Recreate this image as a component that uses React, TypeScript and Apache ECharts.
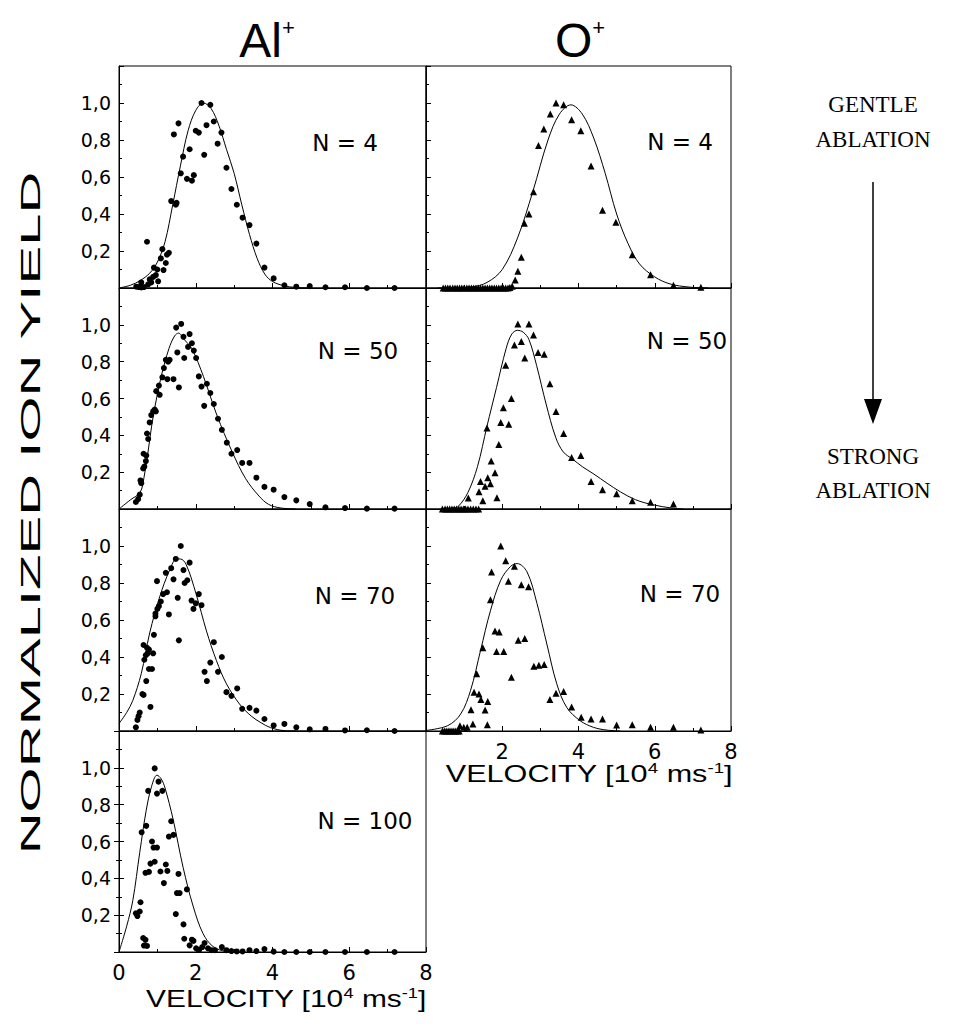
import React, { useEffect, useRef } from "react";
import * as echarts from "echarts";

// ---------- DATA ----------
const xTicks = [0, 2, 4, 6, 8];
const yTickLabels = ["0,2", "0,4", "0,6", "0,8", "1,0"];
const panelLabels = ["N = 4", "N = 50", "N = 70", "N = 100", "N = 4", "N = 50", "N = 70"];

// Al+ , N = 4
const alN4Pts = [
  [0.45, 0.007], [0.52, 0.005], [0.58, 0.003], [0.65, 0.005], [0.58, 0.03], [0.76, 0.02], [0.84, 0.03],
  [0.8, 0.047], [0.89, 0.06], [0.96, 0.07], [1.02, 0.036], [0.91, 0.11], [1.0, 0.1], [1.16, 0.097],
  [1.22, 0.135], [1.09, 0.16], [1.25, 0.18], [1.3, 0.19], [1.13, 0.21], [0.73, 0.25], [1.36, 0.47],
  [1.5, 0.46], [1.48, 0.45], [1.61, 0.62], [1.77, 0.59], [1.9, 0.58], [1.95, 0.61], [1.67, 0.71],
  [1.84, 0.75], [1.43, 0.83], [1.55, 0.89], [2.0, 0.85], [2.08, 0.84], [2.28, 0.88], [2.47, 0.9],
  [2.15, 1.0], [2.38, 0.99], [2.22, 0.72], [2.57, 0.78], [2.67, 0.84], [2.8, 0.65], [2.93, 0.535],
  [3.07, 0.45], [3.22, 0.38], [3.4, 0.34], [3.58, 0.24], [3.79, 0.11], [4.03, 0.052], [4.31, 0.015],
  [4.62, 0.007], [4.97, 0.01], [5.38, 0.004], [5.89, 0.004], [6.46, 0], [7.18, 0],
];
const alN4Fit = [
  [0, 0], [0.3, 0.015], [0.55, 0.04], [0.8, 0.08], [1.0, 0.14], [1.2, 0.25], [1.4, 0.45], [1.6, 0.66],
  [1.8, 0.85], [2.0, 0.96], [2.2, 1.0], [2.4, 0.97], [2.6, 0.88], [2.8, 0.75], [3.0, 0.62], [3.2, 0.45],
  [3.4, 0.29], [3.6, 0.16], [3.8, 0.075], [4.0, 0.035], [4.3, 0.012], [4.6, 0.003], [5.0, 0],
];

// Al+ , N = 50
const alN50Pts = [
  [0.44, 0.038], [0.5, 0.054], [0.54, 0.078], [0.58, 0.14], [0.56, 0.155], [0.63, 0.22], [0.66, 0.23],
  [0.7, 0.26], [0.71, 0.29], [0.64, 0.3], [0.76, 0.38], [0.73, 0.41], [0.8, 0.47], [0.84, 0.51],
  [0.89, 0.53], [0.93, 0.54], [0.96, 0.53], [1.06, 0.62], [0.97, 0.64], [1.04, 0.67], [1.13, 0.715],
  [1.26, 0.705], [1.42, 0.705], [1.56, 0.66], [1.17, 0.765], [1.28, 0.8], [1.22, 0.81], [1.32, 0.81],
  [1.52, 0.85], [1.49, 0.985], [1.62, 1.005], [1.68, 0.935], [1.84, 0.95], [1.8, 0.88], [1.9, 0.9],
  [1.95, 0.86], [1.7, 0.82], [2.01, 0.82], [2.08, 0.72], [2.15, 0.665], [2.29, 0.68], [2.38, 0.63],
  [2.22, 0.56], [2.47, 0.57], [2.58, 0.49], [2.68, 0.43], [2.81, 0.36], [2.93, 0.3], [3.08, 0.32],
  [3.21, 0.25], [3.4, 0.25], [3.58, 0.17], [3.79, 0.12], [4.03, 0.105], [4.31, 0.065], [4.62, 0.047],
  [4.97, 0.027], [5.38, 0.009], [5.89, 0.005], [6.46, 0.002], [7.18, 0.002],
];
const alN50Fit = [
  [0, 0], [0.3, 0.05], [0.55, 0.09], [0.65, 0.17], [0.75, 0.3], [0.85, 0.45], [0.95, 0.57], [1.1, 0.72],
  [1.3, 0.87], [1.45, 0.94], [1.55, 0.955], [1.7, 0.92], [1.9, 0.87], [2.2, 0.72], [2.55, 0.51],
  [2.95, 0.31], [3.3, 0.165], [3.65, 0.07], [3.9, 0.025], [4.2, 0.006], [4.6, 0],
];

// Al+ , N = 70
const alN70Pts = [
  [0.44, 0.02], [0.48, 0.06], [0.51, 0.08], [0.54, 0.1], [0.61, 0.2], [0.64, 0.195], [0.82, 0.13],
  [0.71, 0.27], [0.78, 0.335], [0.86, 0.335], [0.66, 0.385], [0.7, 0.41], [0.75, 0.42], [0.78, 0.44],
  [0.89, 0.42], [0.73, 0.45], [0.64, 0.465], [0.91, 0.52], [0.95, 0.62], [0.95, 0.635], [1.0, 0.66],
  [1.04, 0.675], [1.09, 0.7], [1.15, 0.74], [1.25, 0.75], [1.3, 0.63], [0.99, 0.81], [1.22, 0.855],
  [1.36, 0.88], [1.42, 0.82], [1.48, 0.93], [1.53, 0.72], [1.56, 0.49], [1.61, 1.0], [1.68, 0.87],
  [1.71, 0.8], [1.78, 0.815], [1.84, 0.91], [1.89, 0.705], [1.94, 0.66], [2.0, 0.69], [2.08, 0.74],
  [2.15, 0.68], [2.23, 0.32], [2.29, 0.27], [2.38, 0.37], [2.47, 0.48], [2.58, 0.32], [2.68, 0.4],
  [2.8, 0.21], [2.93, 0.19], [3.08, 0.23], [3.21, 0.12], [3.4, 0.125], [3.58, 0.11], [3.79, 0.065],
  [4.03, 0.03], [4.31, 0.038], [4.62, 0.02], [4.97, 0.009], [5.38, 0.011], [5.89, 0.003], [6.46, 0.004],
  [7.18, 0],
];
const alN70Fit = [
  [0, 0.04], [0.2, 0.1], [0.36, 0.165], [0.58, 0.31], [0.8, 0.53], [1.06, 0.725], [1.32, 0.87],
  [1.5, 0.93], [1.6, 0.93], [1.75, 0.9], [2.01, 0.74], [2.28, 0.54], [2.54, 0.38], [2.8, 0.255],
  [3.14, 0.146], [3.45, 0.08], [3.7, 0.045], [3.95, 0.018], [4.3, 0.002], [4.6, 0],
];

// Al+ , N = 100
const alN100Pts = [
  [0.44, 0.21], [0.48, 0.195], [0.54, 0.22], [0.56, 0.27], [0.59, 0.65], [0.63, 0.076], [0.69, 0.066],
  [0.65, 0.035], [0.73, 0.033], [0.69, 0.43], [0.78, 0.435], [0.71, 0.685], [0.76, 0.875], [0.82, 0.48],
  [0.86, 0.6], [0.9, 0.567], [0.93, 0.49], [0.99, 0.567], [0.93, 0.997], [0.99, 0.86], [1.03, 0.925],
  [1.08, 0.437], [1.13, 0.875], [1.17, 0.374], [1.22, 0.475], [1.26, 0.44], [1.3, 0.627], [1.36, 0.71],
  [1.42, 0.636], [1.48, 0.206], [1.51, 0.32], [1.55, 0.424], [1.58, 0.32], [1.68, 0.15], [1.7, 0.072],
  [1.77, 0.34], [1.84, 0.036], [1.9, 0.067], [1.94, 0.06], [2.01, 0.02], [2.09, 0.012], [2.17, 0.027],
  [2.23, 0.049], [2.32, 0.02], [2.41, 0.01], [2.5, 0.01], [2.68, 0.027], [2.8, 0.01], [2.93, 0.005],
  [3.07, 0.003], [3.22, 0.003], [3.4, 0.01], [3.58, 0.005], [3.79, 0.016], [4.03, 0.002], [4.31, 0],
  [4.62, 0], [4.97, 0], [5.38, 0], [5.89, 0], [6.46, 0], [7.18, 0],
];
const alN100Fit = [
  [0, 0], [0.2, 0.14], [0.36, 0.28], [0.54, 0.54], [0.71, 0.77], [0.85, 0.9], [0.99, 0.96], [1.1, 0.94],
  [1.2, 0.89], [1.41, 0.72], [1.67, 0.46], [1.93, 0.25], [2.19, 0.1], [2.45, 0.03], [2.8, 0.003], [3.1, 0],
];

// O+ , N = 4
const oN4Pts = [
  [0.45, 0], [0.51, 0], [0.57, 0], [0.63, 0], [0.7, 0], [0.76, 0], [0.82, 0], [0.88, 0], [0.94, 0],
  [1.0, 0], [1.07, 0], [1.13, 0], [1.19, 0], [1.25, 0], [1.31, 0], [1.37, 0], [1.43, 0], [1.49, 0],
  [1.55, 0], [1.61, 0], [1.67, 0], [1.73, 0], [1.79, 0], [1.85, 0], [1.91, 0], [1.97, 0], [2.03, 0],
  [2.09, 0], [2.15, 0], [2.2, 0.003], [2.26, 0.01], [2.34, 0.043], [2.41, 0.09], [2.5, 0.166],
  [2.58, 0.35], [2.7, 0.4], [2.82, 0.52], [2.95, 0.77], [3.09, 0.86], [3.26, 0.94], [3.41, 1.0],
  [3.61, 0.99], [3.82, 0.91], [4.06, 0.85], [4.33, 0.66], [4.63, 0.42], [4.98, 0.355], [5.41, 0.18],
  [5.89, 0.072], [6.49, 0.015], [7.21, 0.004],
];
const oN4Fit = [
  [0.3, 0], [0.8, 0.002], [1.2, 0.006], [1.6, 0.03], [2.0, 0.1], [2.4, 0.27], [2.8, 0.52], [3.2, 0.8],
  [3.5, 0.94], [3.8, 0.99], [4.1, 0.94], [4.4, 0.81], [4.7, 0.62], [5.0, 0.4], [5.3, 0.24], [5.6, 0.13],
  [6.0, 0.06], [6.4, 0.022], [6.9, 0.005], [7.4, 0],
];

// O+ , N = 50
const oN50Pts = [
  [0.43, 0], [0.5, 0], [0.56, 0], [0.62, 0], [0.68, 0], [0.74, 0], [0.8, 0], [0.86, 0], [0.92, 0],
  [0.98, 0], [1.04, 0], [1.1, 0], [1.17, 0], [1.24, 0], [1.31, 0], [1.38, 0], [1.11, 0.06], [1.39, 0.094],
  [1.49, 0.045], [1.43, 0.15], [1.55, 0.123], [1.62, 0.17], [1.69, 0.137], [1.71, 0.26], [1.81, 0.197],
  [1.86, 0.061], [1.6, 0.44], [1.91, 0.35], [1.96, 0.47], [2.17, 0.46], [2.03, 0.55], [2.24, 0.6],
  [2.09, 0.78], [2.32, 0.89], [2.5, 0.91], [2.59, 0.82], [2.41, 1.005], [2.7, 1.005], [2.82, 0.945],
  [2.94, 0.85], [3.1, 0.84], [3.25, 0.68], [3.41, 0.53], [3.61, 0.41], [3.82, 0.28], [4.06, 0.29],
  [4.33, 0.15], [4.63, 0.105], [5.0, 0.083], [5.41, 0.045], [5.89, 0.036], [6.49, 0.027],
];
const oN50Fit = [
  [0.4, 0], [0.7, 0.005], [0.85, 0.015], [1.1, 0.09], [1.35, 0.23], [1.6, 0.45], [1.85, 0.66],
  [2.1, 0.87], [2.25, 0.95], [2.4, 0.97], [2.55, 0.96], [2.7, 0.92], [2.9, 0.78], [3.15, 0.57],
  [3.4, 0.39], [3.6, 0.31], [3.85, 0.27], [4.1, 0.23], [4.4, 0.19], [4.75, 0.14], [5.1, 0.093],
  [5.5, 0.05], [5.95, 0.023], [6.45, 0.005], [6.75, 0],
];

// O+ , N = 70
const oN70Pts = [
  [0.43, 0], [0.48, 0], [0.53, 0], [0.58, 0], [0.63, 0], [0.68, 0], [0.73, 0], [0.78, 0], [0.83, 0],
  [0.87, 0], [0.89, 0.029], [0.99, 0.02], [1.08, 0.02], [1.18, 0.115], [1.23, 0.038], [1.26, 0.21],
  [1.33, 0.31], [1.39, 0.2], [1.44, 0.17], [1.49, 0.45], [1.55, 0.114], [1.61, 0.034], [1.62, 0.16],
  [1.69, 0.71], [1.72, 0.86], [1.81, 0.54], [1.85, 0.43], [1.92, 0.535], [1.96, 1.0], [2.04, 0.43],
  [2.09, 0.92], [2.16, 0.81], [2.24, 0.29], [2.32, 0.89], [2.42, 0.49], [2.5, 0.79], [2.59, 0.5],
  [2.69, 0.78], [2.83, 0.35], [2.96, 0.356], [3.1, 0.36], [3.25, 0.17], [3.41, 0.204], [3.61, 0.213],
  [3.82, 0.13], [4.07, 0.074], [4.33, 0.065], [4.63, 0.065], [5.0, 0.032], [5.41, 0.034], [5.89, 0.02],
  [6.49, 0.02], [7.21, 0.005],
];
const oN70Fit = [
  [0, 0.003], [0.57, 0.029], [0.91, 0.092], [1.17, 0.22], [1.43, 0.435], [1.69, 0.65], [1.96, 0.815],
  [2.22, 0.89], [2.39, 0.905], [2.65, 0.86], [2.91, 0.69], [3.17, 0.47], [3.43, 0.255], [3.69, 0.128],
  [4.04, 0.056], [4.39, 0.02], [4.74, 0.005], [5.1, 0],
];

const panelPoints = [alN4Pts, alN50Pts, alN70Pts, alN100Pts, oN4Pts, oN50Pts, oN70Pts];
const panelFits = [alN4Fit, alN50Fit, alN70Fit, alN100Fit, oN4Fit, oN50Fit, oN70Fit];

// ---------- LAYOUT ----------
const SANS = '"DejaVu Sans", sans-serif';
const ARIAL = '"Liberation Sans", Arial, sans-serif';
const SERIF = '"Liberation Serif", "DejaVu Serif", serif';
const colLeft = [119, 426];
const colWidth = [307, 305];
const rowTop = [66, 288, 509, 731];
const rowHeight = [222, 221, 222, 221];
// panel i: column, row
const panelPos = [
  [0, 0], [0, 1], [0, 2], [0, 3],
  [1, 0], [1, 1], [1, 2],
];
const labelPos = [
  [345, 143], [358, 351], [355, 596], [365, 821],
  [680, 142], [687, 341], [680, 594],
];

function buildOption() {
  const grid: any[] = [];
  const xAxis: any[] = [];
  const yAxis: any[] = [];
  const series: any[] = [];
  const graphic: any[] = [];

  panelPos.forEach(([c, r], i) => {
    grid.push({
      left: colLeft[c],
      top: rowTop[r],
      width: colWidth[c],
      height: rowHeight[r],
      show: true,
      borderColor: "#000",
      borderWidth: 1,
      backgroundColor: "transparent",
    });
    const showX = i === 3 || i === 6;
    xAxis.push({
      gridIndex: i,
      type: "value",
      min: 0,
      max: 8,
      interval: 2,
      axisLine: { show: true, onZero: false, lineStyle: { color: "#000", width: 1 } },
      axisTick: { show: true, inside: true, length: 5, lineStyle: { color: "#000" } },
      minorTick: { show: true, splitNumber: 2, length: 3, lineStyle: { color: "#000" } },
      splitLine: { show: false },
      axisLabel: {
        show: showX,
        margin: 10,
        color: "#000",
        fontSize: 21,
        fontFamily: SANS,
        formatter: (v: number) => {
          if (i === 6 && v === 0) return "";
          return xTicks.includes(v) ? String(v) : "";
        },
      },
    });
    yAxis.push({
      gridIndex: i,
      type: "value",
      min: 0,
      max: 1.2,
      interval: 0.2,
      axisLine: { show: true, onZero: false, lineStyle: { color: "#000", width: 1 } },
      axisTick: { show: true, inside: true, length: 5, lineStyle: { color: "#000" } },
      minorTick: { show: true, splitNumber: 2, length: 3, lineStyle: { color: "#000" } },
      splitLine: { show: false },
      axisLabel: {
        show: c === 0,
        margin: 8,
        color: "#000",
        fontSize: 19,
        fontFamily: SANS,
        formatter: (v: number) => {
          const k = Math.round(v * 5) - 1;
          return k >= 0 && k < yTickLabels.length ? yTickLabels[k] : "";
        },
      },
    });
    series.push({
      type: "scatter",
      xAxisIndex: i,
      yAxisIndex: i,
      data: panelPoints[i],
      symbol: c === 0 ? "circle" : "triangle",
      symbolSize: c === 0 ? 6 : [7, 7],
      itemStyle: { color: "#000", opacity: 1 },
      silent: true,
    });
    series.push({
      type: "line",
      xAxisIndex: i,
      yAxisIndex: i,
      data: panelFits[i],
      smooth: 0.35,
      showSymbol: false,
      symbol: "none",
      lineStyle: { color: "#000", width: 1 },
      silent: true,
    });
    graphic.push({
      type: "text",
      x: labelPos[i][0],
      y: labelPos[i][1],
      style: {
        text: panelLabels[i],
        fill: "#000",
        fontSize: 23,
        fontFamily: SANS,
        align: "center",
        verticalAlign: "middle",
      },
    });
  });

  // right-hand tick axis for the bottom-left panel (no neighbour to its right)
  yAxis.push({
    gridIndex: 3,
    type: "value",
    position: "right",
    min: 0,
    max: 1.2,
    interval: 0.2,
    axisLine: { show: false },
    axisTick: { show: true, inside: true, length: 5, lineStyle: { color: "#000" } },
    minorTick: { show: true, splitNumber: 2, length: 3, lineStyle: { color: "#000" } },
    splitLine: { show: false },
    axisLabel: { show: false },
  });

  // column titles
  const titleRich = {
    a: { fontSize: 48, fontFamily: ARIAL, lineHeight: 48, fill: "#000" },
    s: { fontSize: 22, fontFamily: ARIAL, lineHeight: 22, verticalAlign: "top", fill: "#000" },
  };
  graphic.push({
    type: "text",
    x: 267,
    y: 40,
    style: { text: "{a|Al}{s|+}", fill: "#000", align: "center", verticalAlign: "middle", rich: titleRich },
  });
  graphic.push({
    type: "text",
    x: 580,
    y: 40,
    style: { text: "{a|O}{s|+}", fill: "#000", align: "center", verticalAlign: "middle", rich: titleRich },
  });

  // axis titles
  const velRich = {
    n: { fontSize: 23, fontFamily: ARIAL, lineHeight: 26, fill: "#000" },
    s: { fontSize: 14, fontFamily: ARIAL, lineHeight: 14, verticalAlign: "top", fill: "#000" },
  };
  const velText = "{n|VELOCITY [10}{s|4}{n| ms}{s|-1}{n|]}";
  graphic.push({
    type: "text",
    x: 286,
    y: 999,
    scaleX: 1.3,
    style: { text: velText, align: "center", verticalAlign: "middle", rich: velRich },
  });
  graphic.push({
    type: "text",
    x: 589,
    y: 774,
    scaleX: 1.33,
    style: { text: velText, align: "center", verticalAlign: "middle", rich: velRich },
  });
  graphic.push({
    type: "text",
    x: 31,
    y: 513,
    rotation: Math.PI / 2,
    scaleX: 2.15,
    style: {
      text: "NORMALIZED ION YIELD",
      fill: "#000",
      fontSize: 27,
      fontFamily: ARIAL,
      align: "center",
      verticalAlign: "middle",
    },
  });

  // annotation on the right
  const serifText = (t: string, y: number) => ({
    type: "text",
    x: 873,
    y,
    style: {
      text: t,
      fill: "#000",
      fontSize: 23,
      fontFamily: SERIF,
      align: "center",
      verticalAlign: "middle",
    },
  });
  graphic.push(serifText("GENTLE", 104));
  graphic.push(serifText("ABLATION", 139));
  graphic.push(serifText("STRONG", 456));
  graphic.push(serifText("ABLATION", 490));
  graphic.push({
    type: "line",
    shape: { x1: 873, y1: 182, x2: 873, y2: 402 },
    style: { stroke: "#000", lineWidth: 1.5 },
  });
  graphic.push({
    type: "polygon",
    shape: { points: [[864, 399], [882, 399], [873, 424]] },
    style: { fill: "#000" },
  });

  return {
    animation: false,
    backgroundColor: "#fff",
    grid,
    xAxis,
    yAxis,
    series,
    graphic,
  };
}

export default function App() {
  const ref = useRef<HTMLDivElement>(null);
  useEffect(() => {
    if (!ref.current) return;
    const chart = echarts.init(ref.current, null, { renderer: "svg" });
    chart.setOption(buildOption() as any);
    return () => chart.dispose();
  }, []);
  return (
    <div
      ref={ref}
      style={{ position: "fixed", left: 0, top: 0, width: 958, height: 1027, background: "#fff" }}
    />
  );
}
